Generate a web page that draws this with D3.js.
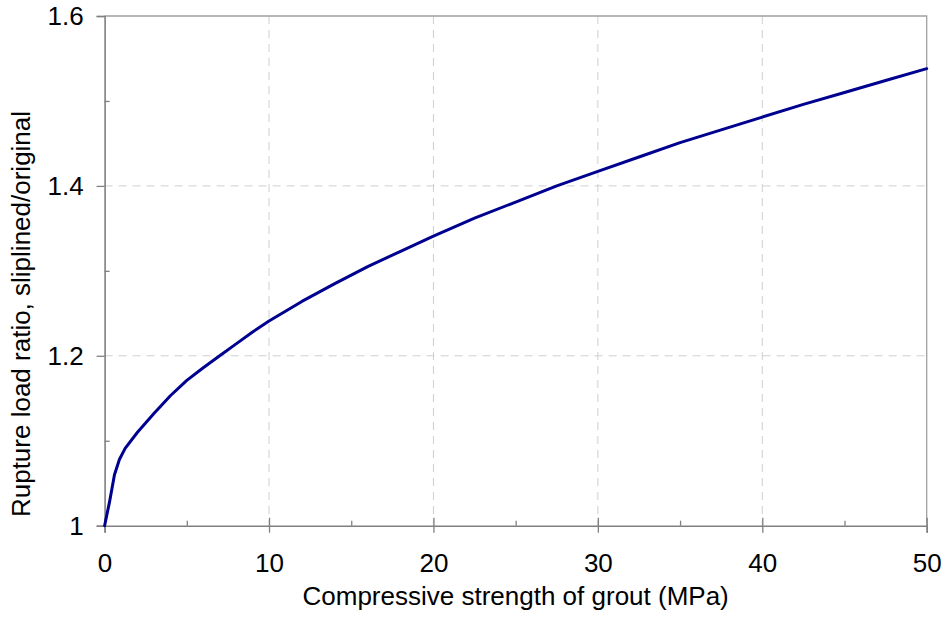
<!DOCTYPE html>
<html>
<head>
<meta charset="utf-8">
<script src="https://cdn.jsdelivr.net/npm/d3@7"></script>
<style>
  html, body { margin: 0; padding: 0; background: #fff; }
  svg { display: block; font-family: "Liberation Sans", Arial, sans-serif; }
</style>
</head>
<body>
<svg id="chart" width="945" height="623"></svg>
<script>
// Grout compressive strength (MPa) vs. rupture load ratio (sliplined / original)
const strength = [0, 0.3, 0.6, 0.9, 1.25, 2, 3, 4, 5, 6, 7, 8, 9, 10, 12, 14, 16, 18, 20,
                  22.5, 25, 27.5, 30, 32.5, 35, 37.5, 40, 42.5, 45, 47.5, 50];
const ratio = [1.000, 1.028, 1.060, 1.078, 1.091, 1.110, 1.132, 1.153, 1.171, 1.186, 1.200,
               1.214, 1.228, 1.241, 1.264, 1.285, 1.305, 1.323, 1.341, 1.362, 1.381, 1.400,
               1.417, 1.434, 1.451, 1.466, 1.481, 1.496, 1.510, 1.524, 1.538];

const xMajor = [0, 10, 20, 30, 40, 50];
const xMinor = [5, 15, 25, 35, 45];
const yMajor = [1, 1.2, 1.4, 1.6];
const yMinor = [1.1, 1.3, 1.5];
const yTickLabels = ["1", "1.2", "1.4", "1.6"];

const xTitle = "Compressive strength of grout (MPa)";
const yTitle = "Rupture load ratio, sliplined/original";

const svg = d3.select("#chart");
const plot = { left: 104.6, right: 926.7, top: 16, bottom: 525.7 };

const x = d3.scaleLinear().domain([0, 50]).range([plot.left, plot.right]);
const y = d3.scaleLinear().domain([1, 1.6]).range([plot.bottom, plot.top]);

const axisColor = "#808080";
const fontSize = 26;

// dashed gridlines
svg.append("g").selectAll("line")
  .data(xMajor.filter(d => d > 0 && d < 50)).join("line")
  .attr("x1", d => x(d)).attr("x2", d => x(d))
  .attr("y1", plot.top).attr("y2", plot.bottom)
  .attr("stroke", "#cfcfcf").attr("stroke-width", 1).attr("stroke-dasharray", "8,6");
svg.append("g").selectAll("line")
  .data(yMajor.filter(d => d > 1 && d < 1.6)).join("line")
  .attr("x1", plot.left).attr("x2", plot.right)
  .attr("y1", d => y(d)).attr("y2", d => y(d))
  .attr("stroke", "#cfcfcf").attr("stroke-width", 1).attr("stroke-dasharray", "8,6");

// plot frame (top and right)
svg.append("path")
  .attr("d", `M${plot.left},${plot.top}H${plot.right}V${plot.bottom}`)
  .attr("fill", "none").attr("stroke", "#a0a0a0").attr("stroke-width", 1.3);

// x axis
const xAxis = svg.append("g").attr("transform", `translate(0,${plot.bottom})`)
  .call(d3.axisBottom(x).tickValues(xMajor).tickSize(7).tickPadding(21).tickFormat(d3.format("d")));
xAxis.select(".domain").attr("stroke", axisColor).attr("stroke-width", 1.6);
xAxis.selectAll(".tick line").attr("stroke", axisColor).attr("stroke-width", 1.3)
  .attr("y1", -8);
xAxis.selectAll(".tick text").attr("font-size", fontSize).attr("fill", "#000")
  .attr("font-family", "Liberation Sans, Arial, sans-serif");
svg.append("g").attr("transform", `translate(0,${plot.bottom})`)
  .call(d3.axisTop(x).tickValues(xMinor).tickSize(5).tickFormat(""))
  .call(g => g.select(".domain").remove())
  .selectAll(".tick line").attr("stroke", axisColor).attr("stroke-width", 1.3);

// y axis
const yAxis = svg.append("g").attr("transform", `translate(${plot.left},0)`)
  .call(d3.axisLeft(y).tickValues(yMajor).tickSize(8).tickPadding(13)
    .tickFormat((d, i) => yTickLabels[i]));
yAxis.select(".domain").attr("stroke", axisColor).attr("stroke-width", 1.6);
yAxis.selectAll(".tick line").attr("stroke", axisColor).attr("stroke-width", 1.3);
yAxis.selectAll(".tick text").attr("font-size", fontSize).attr("fill", "#000")
  .attr("font-family", "Liberation Sans, Arial, sans-serif");
svg.append("g").attr("transform", `translate(${plot.left},0)`)
  .call(d3.axisRight(y).tickValues(yMinor).tickSize(5).tickFormat(""))
  .call(g => g.select(".domain").remove())
  .selectAll(".tick line").attr("stroke", axisColor).attr("stroke-width", 1.3);

// curve
const line = d3.line().x((d, i) => x(strength[i])).y(d => y(d));
svg.append("path")
  .datum(ratio)
  .attr("d", line)
  .attr("fill", "none")
  .attr("stroke", "#000090")
  .attr("stroke-width", 3)
  .attr("stroke-linejoin", "round")
  .attr("stroke-linecap", "round");

// axis titles
svg.append("text")
  .attr("x", (plot.left + plot.right) / 2).attr("y", 605)
  .attr("text-anchor", "middle").attr("font-size", fontSize).attr("fill", "#000")
  .text(xTitle);
svg.append("text")
  .attr("transform", `translate(30,${(113 + 515) / 2}) rotate(-90)`)
  .attr("text-anchor", "middle").attr("font-size", fontSize).attr("fill", "#000")
  .text(yTitle);
</script>
</body>
</html>
